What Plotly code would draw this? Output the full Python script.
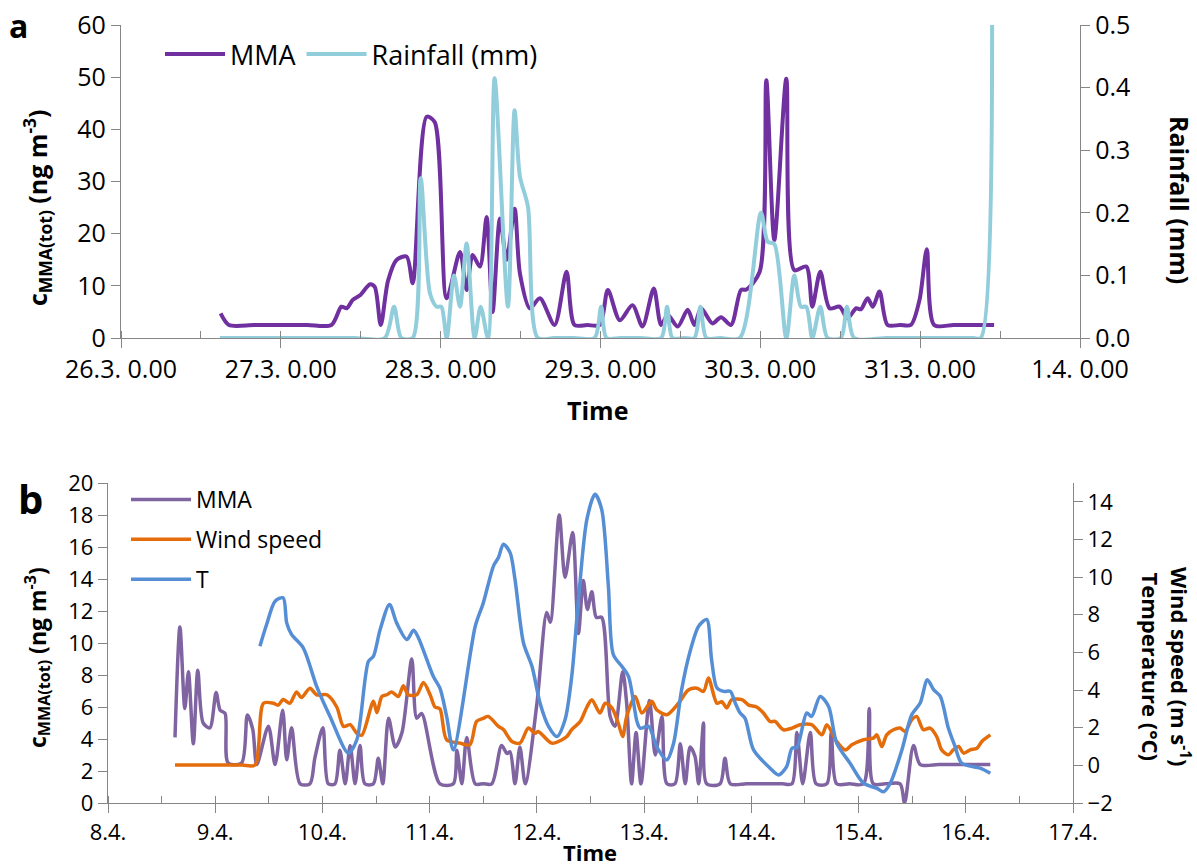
import pandas as pd
import plotly.graph_objects as go

# ---------------- Panel a data (hours since 26.3. 0:00) ----------------
a_mma_h = [14.96, 16.2, 20.0, 24.0, 28.0, 31.6, 33.1, 33.9, 34.8, 35.9, 37.4, 38.1, 39.0, 40.1, 41.4, 42.9, 43.8,
           45.9, 47.1, 48.9, 50.9, 51.9, 52.8, 53.9, 54.9, 55.8, 56.9, 57.9, 59.1, 59.9, 61.4,
           62.9, 65.1, 66.9, 68.1, 70.0, 71.9, 73.1, 74.9, 76.8, 78.3, 80.0, 81.1, 82.1, 83.6, 85.1,
           86.1, 87.1, 88.8, 90.1, 91.6, 93.1, 93.9, 95.9, 96.9, 98.1, 99.9, 101.1, 102.9, 103.8,
           105.0, 106.4, 107.9, 109.1, 110.4, 111.1, 112.1, 112.9, 113.9, 115.1, 117.0, 118.6, 119.9,
           121.0, 122.1, 125.0, 128.0, 131.1]
a_mma_v = [4.7, 2.5, 2.5, 2.5, 2.5, 2.5, 6.0, 5.7, 7.3, 8.2, 10.3, 9.8, 2.5, 11.0, 15.0, 15.6, 10.5,
           42.4, 41.4, 7.6, 16.5, 9.2, 15.9, 13.7, 23.2, 5.0, 22.9, 15.0, 24.8, 12.4, 5.7,
           7.6, 2.5, 12.7, 2.5, 2.5, 2.5, 9.2, 3.4, 6.3, 2.2, 9.5, 2.5, 4.4, 2.2, 5.4,
           2.5, 5.7, 2.8, 4.0, 2.5, 9.2, 9.3, 12.7, 49.4, 18.8, 49.7, 13.0, 13.7, 6.0,
           12.7, 5.7, 6.0, 3.8, 5.7, 5.5, 7.6, 6.0, 8.9, 2.5, 2.5, 2.5, 7.3,
           17.0, 2.5, 2.5, 2.5, 2.5]

a_rain_h = [14.85, 20.0, 25.0, 30.0, 35.0, 39.6, 41.0, 42.1, 43.8, 45.0, 46.4, 47.4, 48.1, 48.9, 50.0, 50.9,
            51.9, 53.1, 54.0, 55.1, 56.1, 58.1, 59.1, 59.9, 61.1, 62.6, 65.0, 68.0, 71.1, 72.1, 72.9,
            75.0, 78.0, 81.1, 82.0, 82.8, 84.5, 86.1, 87.0, 87.9, 90.0, 92.9, 96.1, 97.1, 98.1, 99.9,
            101.1, 102.1, 102.9, 103.8, 105.0, 106.1, 108.1, 109.0, 110.1, 115.0, 120.0, 125.0,
            128.0, 129.1, 130.8]
a_rain_v = [0, 0, 0, 0, 0, 0, 0.05, 0, 0, 0.255, 0.071, 0.05, 0.05, 0, 0.10, 0.05,
            0.151, 0, 0.05, 0, 0.415, 0.05, 0.364, 0.258, 0.21, 0, 0, 0, 0, 0.05, 0,
            0, 0, 0, 0.05, 0, 0, 0, 0.05, 0, 0, 0, 0.20, 0.154, 0.15, 0,
            0.10, 0.05, 0.05, 0, 0.05, 0, 0, 0.05, 0, 0, 0, 0,
            0, 0, 0.5]

# ---------------- Panel b data (hours since 8.4. 0:00) ----------------
b_mma_h = [15.0, 16.1, 17.2, 18.0, 19.1, 20.1, 21.3, 22.8, 24.2, 25.1, 26.2, 26.9, 29.9, 31.2,
           32.4, 33.3, 35.9, 37.4, 39.1, 40.0, 41.1, 43.0, 45.2, 46.3, 48.1, 49.3, 50.8, 51.9,
           53.1, 54.2, 55.3, 56.4, 57.5, 59.4, 60.5, 61.5, 62.8, 64.3, 65.8, 68.0, 69.1, 70.2,
           74.3, 77.3, 78.1, 79.2, 80.3, 82.2, 84.0, 85.9, 88.1, 89.3, 90.0, 91.1, 92.2, 93.4, 96.0,
           98.2, 99.0, 101.0, 102.3, 104.0, 105.3, 106.4, 107.3, 108.3, 109.3, 110.5, 112.4,
           113.5, 115.2, 116.1, 117.2, 118.2, 119.3, 121.2, 122.5, 124.0, 125.1, 126.9, 128.1,
           129.2, 130.3, 131.4, 132.2, 133.3, 134.0, 137.0, 138.1, 139.3, 143.0, 147.0, 151.0,
           153.1, 154.2, 155.5, 157.2, 158.5, 160.9, 161.9, 163.1, 166.0, 169.1, 170.4, 171.3,
           174.0, 177.3, 178.3, 180.3, 181.8, 186.0, 190.0, 194.0, 197.5]
b_mma_v = [4.1, 11.0, 5.9, 8.2, 3.7, 8.3, 5.0, 4.7, 6.9, 5.8, 5.6, 2.5, 2.5, 5.5,
           4.6, 2.4, 4.8, 2.4, 5.8, 2.7, 4.7, 1.2, 1.2, 2.8, 4.7, 1.2, 1.2, 3.3,
           1.2, 3.6, 1.2, 3.6, 1.2, 1.2, 2.8, 1.2, 5.3, 3.5, 4.4, 9.0, 5.3, 5.6,
           1.2, 1.2, 3.3, 1.2, 4.1, 1.2, 1.2, 1.2, 3.6, 3.1, 3.2, 1.2, 3.5, 1.2, 6.2,
           11.9, 11.3, 18.0, 14.1, 16.9, 10.6, 13.9, 12.1, 13.2, 11.6, 11.6, 5.4,
           4.8, 8.2, 6.2, 1.2, 4.4, 1.2, 6.4, 3.0, 5.4, 1.2, 1.2, 3.7,
           1.2, 3.5, 2.9, 1.2, 5.0, 1.2, 1.2, 2.8, 1.2, 1.2, 1.2, 1.2,
           1.2, 4.4, 1.2, 4.4, 1.2, 1.2, 4.4, 1.2, 1.2, 1.2, 5.9, 1.2,
           1.2, 1.2, 0.0, 3.6, 2.4, 2.4, 2.4, 2.4, 2.4]

b_wind_h = [15.0, 20.0, 25.0, 30.0, 32.9, 34.8, 37.0, 38.1, 39.2, 40.7, 42.2, 43.3, 45.2, 46.7, 49.0, 51.2, 52.7,
            54.2, 55.7, 56.8, 59.4, 60.2, 61.3, 62.4, 63.5, 65.0, 66.1, 67.2, 69.1, 70.6, 72.1,
            73.2, 74.3, 75.8, 78.8, 81.0, 82.5, 84.0, 85.1, 87.4, 88.5, 90.4, 92.2, 94.1, 95.6,
            96.3, 99.3, 101.6, 102.7, 103.8, 105.7, 107.2, 108.3, 110.1, 111.3, 112.8, 114.2,
            115.2, 116.1, 118.0, 119.5, 121.7, 122.8, 125.1, 127.7, 129.9, 131.8, 133.3, 134.4,
            136.3, 137.4, 138.5, 139.6, 141.9, 143.4, 145.2, 146.7, 148.2, 149.3, 151.2, 153.1,
            154.9, 157.5, 159.8, 160.9, 163.1, 165.0, 166.5, 169.1, 171.3, 172.1, 173.2, 174.3,
            175.8, 177.3, 178.4, 179.9, 181.0, 182.5, 184.0, 185.5, 186.6, 188.1, 189.2, 190.4,
            191.5, 193.0, 194.5, 195.6, 197.5]
b_wind_v = [0.02, 0.02, 0.02, 0.02, 0.02, 3.3, 3.3, 3.2, 3.5, 3.3, 3.9, 3.6, 4.1, 3.75, 3.75, 3.1, 2.07,
            2.16, 1.7, 1.6, 3.4, 2.8, 3.66, 3.75, 3.9, 3.66, 4.23, 3.75, 3.75, 4.4, 3.75,
            3.1, 3.0, 1.36, 1.18, 1.09, 2.33, 2.5, 2.6, 2.07, 1.9, 1.27, 1.18, 1.98, 1.7,
            1.8, 1.18, 1.36, 1.53, 1.9, 2.33, 3.1, 3.49, 2.78, 3.3, 3.05, 2.25,
            1.53, 2.6, 3.66, 2.78, 3.4, 2.95, 2.69, 3.3, 4.0, 4.1, 3.93, 4.64,
            3.3, 3.38, 3.05, 3.49, 3.49, 3.2, 3.1, 2.78, 2.33, 2.33, 1.89, 1.98,
            2.16, 2.16, 1.62, 2.16, 1.27, 0.82, 1.09, 1.36, 1.45, 1.62, 1.0, 1.62,
            1.89, 1.98, 1.8, 2.42, 2.6, 1.89, 1.98, 1.53, 0.82, 0.56, 0.82, 1.0,
            0.65, 0.82, 0.91, 1.27, 1.62]

b_temp_h = [34.0, 35.5, 37.4, 39.2, 40.0, 41.1, 43.7, 46.7, 49.7, 53.8, 55.7, 58.3, 59.4, 60.9,
            63.0, 64.6, 66.9, 68.4, 69.5, 72.8, 74.3, 75.8, 77.3, 82.2, 84.0, 86.3, 87.4, 88.5,
            90.0, 91.1, 93.0, 94.9, 96.7, 98.6, 100.5, 102.3, 103.8, 105.3, 107.2, 109.0, 110.5,
            112.0, 113.1, 115.0, 116.5, 118.4, 119.1, 121.0, 122.8, 125.1, 126.6, 128.4, 130.3,
            132.2, 134.0, 135.1, 136.3, 137.8, 139.3, 140.4, 141.5, 142.6, 144.5, 148.2, 150.1,
            151.9, 153.1, 154.2, 156.4, 157.5, 159.4, 161.3, 163.1, 166.1, 169.1, 172.1, 173.6,
            175.1, 177.7, 179.9, 181.8, 183.4, 184.8, 186.3, 188.1, 189.6, 191.1, 195.2, 197.5]
b_temp_v = [6.33, 7.48, 8.72, 8.9, 7.57, 6.95, 6.24, 4.2, 2.6, 0.65, 1.36, 5.53, 5.79, 7.2,
            8.55, 7.57, 6.68, 7.18, 6.77, 4.73, 4.1, 2.6, 0.82, 7.39, 8.63, 10.6, 11.04, 11.75,
            11.3, 9.88, 6.5, 5.26, 3.31, 2.07, 1.53, 2.42, 4.73, 8.8, 13.08, 14.4, 13.6,
            9.52, 5.89, 5.26, 4.73, 2.33, 1.98, 2.07, 1.0, 0.29, 1.18, 4.02, 6.06,
            7.39, 7.75, 5.62, 4.11, 3.93, 3.93, 3.31, 2.78, 2.5, 0.82, -0.15, -0.51,
            -0.07, 0.91, 0.95, 2.78, 2.6, 3.66, 3.13, 1.18, 0.11, -0.95, -1.22, -1.4,
            -0.95, 0.82, 2.69, 3.31, 4.55, 4.02, 3.66, 1.98, 1.0, 0.11, -0.15, -0.42]

a_ticks = ["2015-03-%02d" % d for d in range(26, 32)] + ["2015-04-01"]
a_ticktext = ["26.3. 0.00", "27.3. 0.00", "28.3. 0.00", "29.3. 0.00", "30.3. 0.00", "31.3. 0.00", "1.4. 0.00"]
b_ticks = ["2015-04-%02d" % d for d in range(8, 18)]
b_ticktext = ["%d.4." % d for d in range(8, 18)]

base_a = pd.Timestamp("2015-03-26")
base_b = pd.Timestamp("2015-04-08")
def tx(base, hours):
    return base + pd.to_timedelta(hours, unit="h")

FONT = "Open Sans"
AX = "#868686"
W, H = 1197, 867
SM = 0.8

fig = go.Figure()
fig.add_trace(go.Scatter(x=tx(base_a, a_mma_h), y=a_mma_v, name="MMA", mode="lines",
                         line=dict(color="#7030A0", width=4, shape="spline", smoothing=SM),
                         xaxis="x", yaxis="y", legend="legend"))
fig.add_trace(go.Scatter(x=tx(base_a, a_rain_h), y=a_rain_v, name="Rainfall (mm)", mode="lines",
                         line=dict(color="#92CDDC", width=4, shape="spline", smoothing=SM),
                         xaxis="x", yaxis="y2", legend="legend"))
fig.add_trace(go.Scatter(x=tx(base_b, b_mma_h), y=b_mma_v, name="MMA", mode="lines",
                         line=dict(color="#8064A2", width=3.5, shape="spline", smoothing=SM),
                         xaxis="x2", yaxis="y3", legend="legend2", legendgroup="g1"))
fig.add_trace(go.Scatter(x=tx(base_b, b_wind_h), y=b_wind_v, name="Wind speed", mode="lines",
                         line=dict(color="#E46C0A", width=3.5, shape="spline", smoothing=SM),
                         xaxis="x2", yaxis="y4", legend="legend2", legendgroup="g2"))
fig.add_trace(go.Scatter(x=tx(base_b, b_temp_h), y=b_temp_v, name="T", mode="lines",
                         line=dict(color="#558ED5", width=3.5, shape="spline", smoothing=SM),
                         xaxis="x2", yaxis="y4", legend="legend2", legendgroup="g3"))

def px(x): return x / W
def py(y): return 1 - y / H

common = dict(showgrid=False, zeroline=False, showline=True, linecolor=AX, linewidth=1.3,
              ticks="outside", tickcolor=AX, tickwidth=1.3, ticklen=9, automargin=False)

fig.update_layout(
    width=W, height=H, margin=dict(l=0, r=0, t=0, b=0, autoexpand=False),
    paper_bgcolor="white", plot_bgcolor="white",
    font=dict(family=FONT, color="black"),
    xaxis=dict(domain=[px(121), px(1080)], anchor="y",
               range=["2015-03-26", "2015-04-01"], tickmode="array", tickvals=a_ticks, ticktext=a_ticktext,
               tickfont=dict(size=25), minor=dict(tickmode="linear", tick0="2015-03-26", dtick=43200000,
                                                 ticks="inside", ticklen=7, tickcolor=AX, tickwidth=1.3),
               **common),
    yaxis=dict(domain=[py(338), py(25)], anchor="x", range=[0, 60], dtick=10,
               tickfont=dict(size=25), **common),
    yaxis2=dict(overlaying="y", anchor="x", side="right", range=[0, 0.5], dtick=0.1, tickformat=".1f",
                tickfont=dict(size=25), **common),
    xaxis2=dict(domain=[px(108), px(1073)], anchor="y3",
                range=["2015-04-08", "2015-04-17"], tickmode="array", tickvals=b_ticks, ticktext=b_ticktext,
                tickfont=dict(size=22), minor=dict(tickmode="linear", tick0="2015-04-08", dtick=43200000,
                                                  ticks="inside", ticklen=7, tickcolor=AX, tickwidth=1.3),
                **common),
    yaxis3=dict(domain=[py(803), py(483)], anchor="x2", range=[0, 20], dtick=2,
                tickfont=dict(size=22), **common),
    yaxis4=dict(overlaying="y3", anchor="x2", side="right", range=[-2, 15], tick0=-2, dtick=2,
                tickfont=dict(size=22), **common),
    legend=dict(orientation="h", x=px(160), y=py(30), xanchor="left", yanchor="top",
                font=dict(size=27), bgcolor="rgba(0,0,0,0)", itemwidth=60),
    legend2=dict(orientation="v", x=px(126), y=py(478), xanchor="left", yanchor="top",
                 font=dict(size=23), bgcolor="rgba(0,0,0,0)", tracegroupgap=7, traceorder="grouped",
                 itemwidth=60),
    showlegend=True,
)

ann = [
    dict(text="<b>a</b>", x=px(18), y=py(26), font=dict(size=32)),
    dict(text="<b>b</b>", x=px(30), y=py(498), font=dict(size=40)),
    dict(text="<b>Time</b>", x=px(597), y=py(410), font=dict(size=25)),
    dict(text="<b>Time</b>", x=px(590), y=py(852), font=dict(size=22)),
    dict(text="<b>c<sub>MMA(tot)</sub> (ng m<sup>-3</sup>)</b>", x=px(37), y=py(208),
         font=dict(size=25), textangle=-90),
    dict(text="<b>Rainfall (mm)</b>", x=px(1180), y=py(200), font=dict(size=25), textangle=90),
    dict(text="<b>c<sub>MMA(tot)</sub> (ng m<sup>-3</sup>)</b>", x=px(37), y=py(658),
         font=dict(size=23), textangle=-90),
    dict(text="<b>Wind speed (m s<sup>-1</sup>)<br>Temperature (°C)</b>", x=px(1166), y=py(667),
         font=dict(size=22), textangle=90),
]
for a in ann:
    a.update(xref="paper", yref="paper", showarrow=False, xanchor="center", yanchor="middle")
    fig.add_annotation(**a)

fig.write_html("out.html")
